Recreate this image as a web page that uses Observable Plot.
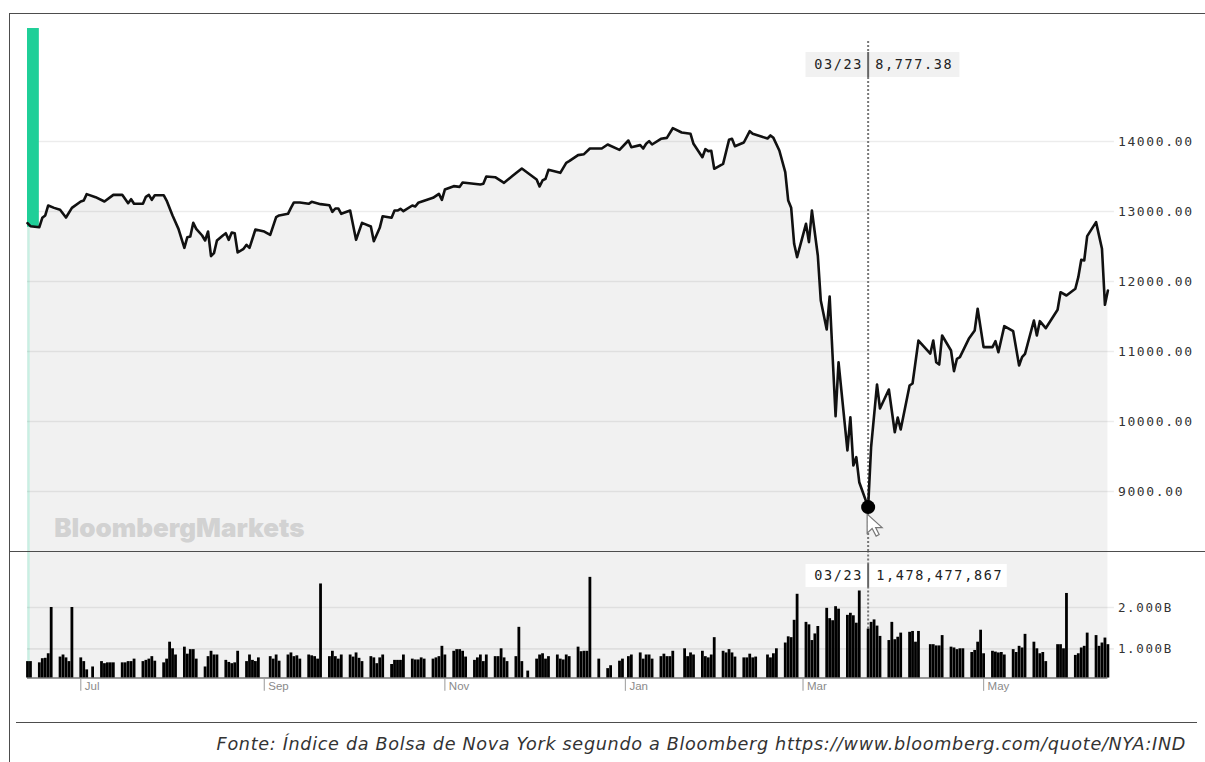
<!DOCTYPE html>
<html>
<head>
<meta charset="utf-8">
<script src="https://cdn.jsdelivr.net/npm/d3@7"></script>
<script src="https://cdn.jsdelivr.net/npm/@observablehq/plot@0.6"></script>
<style>
html,body{margin:0;padding:0;background:#fff;}
#page{position:relative;width:1205px;height:762px;overflow:hidden;background:#fff;}
#top,#bottom{position:absolute;left:0;}
#top{top:0;}
#bottom{top:551px;}
.ln{position:absolute;background:#4d4d4d;}
#caption{position:absolute;right:19px;top:734px;font:italic 17.6px "DejaVu Sans",sans-serif;letter-spacing:.68px;white-space:nowrap;color:#333;}
g[font-weight="900"],g[font-size="11.5"]{letter-spacing:0;}
</style>
</head>
<body>
<div id="page">
  <div id="top"></div>
  <div id="bottom"></div>
  <div class="ln" style="left:9px;top:13px;width:1196px;height:1.4px"></div>
  <div class="ln" style="left:9px;top:13px;width:1.4px;height:749px"></div>
  <div class="ln" style="left:10px;top:550.5px;width:1195px;height:1.3px"></div>
  <div class="ln" style="left:16px;top:722px;width:1181px;height:1.4px"></div>
  <div id="caption">Fonte: Índice da Bolsa de Nova York segundo a Bloomberg https://www.bloomberg.com/quote/NYA:IND</div>
</div>
<script>
// Days since 13 Jun 2019 and the index level read at each turning point of the line
const lineDays = [0,1,4,5,6,7,9,11,13,15,18,19,20,23,26,29,32,34,35,36,39,40,41,42,43,46,47,49,51,53,54,55,56,57,59,60,61,62,63,64,66,67,68,69,70,71,73,74,75,77,80,82,84,85,88,89,90,92,95,96,99,102,103,104,105,106,109,111,113,116,117,119,120,123,124,125,
  126,127,130,131,132,137,139,140,141,144,146,147,153,154,155,158,161,164,167,172,173,174,175,176,180,182,183,186,188,190,194,196,200,203,204,207,208,209,210,211,214,216,218,221,224,225,228,229,230,231,232,235,237,238,239,242,244,245,250,251,252,254,256,257,258,259,260,
  263,264,265,267,268,270,271,273,274,277,278,279,280,281,284,285,287,288,291,293,294,295,298,299,301,305,306,307,308,309,312,313,314,315,318,320,321,323,326,327,328,330,333,335,336,337,340,341,342,344,348,349,351,354,355,356,357,358,361,363,364,365];
const lineCloses = [12833,12790,12776,12910,12943,13086,13052,13024,12914,13052,13143,13157,13248,13205,13143,13238,13238,13119,13176,13110,13110,13210,13238,13167,13233,13233,13157,12943,12752,12481,12633,12643,12838,12752,12657,12586,12714,12362,12405,12586,12657,12690,12595,12700,12690,12414,12467,12524,12481,12743,12714,12667,12919,12943,12967,13052,13129,13129,13110,13138,13105,13090,12995,13043,13043,12967,13014,12595,12838,12786,12576,12767,12933,12910,13014,13014,
  13038,13005,13086,13071,13124,13195,13252,13167,13314,13362,13352,13414,13386,13395,13500,13490,13410,13514,13614,13457,13357,13443,13467,13595,13552,13695,13719,13805,13819,13900,13900,13957,13881,14014,13919,13948,13900,13967,14005,13957,14038,14052,14190,14129,14110,13967,13776,13890,13862,13867,13610,13681,14024,14038,13933,13986,14148,14110,14043,14086,14052,13871,13562,13157,13052,12538,12348,
  12824,12562,13014,12371,11729,11314,11786,10076,10847,9586,10061,9371,9490,9133,8777.38,9633,10529,10186,10457,9847,10057,9886,10514,10543,11157,10971,11157,10847,10814,11229,11014,10719,10896,10919,11181,11300,11610,11062,11062,11147,10990,11362,11290,10800,10919,10967,11443,11229,11433,11333,11596,11847,11800,11896,12062,12310,12300,12648,12848,12467,11667,11871];

// Trading days (same day count) and the volume of each bar, in billions of shares
const volumeDays = [0,1,4,5,6,7,8,11,12,13,14,15,18,19,20,22,25,26,27,28,29,32,33,34,35,36,39,40,41,42,43,46,47,48,49,50,53,54,55,56,57,60,61,62,63,64,67,68,69,70,71,74,75,76,77,78,82,83,84,85,88,89,90,91,92,95,96,97,98,99,102,103,104,105,106,109,110,111,112,113,116,117,118,119,120,123,124,125,
  126,127,130,131,132,133,134,137,138,139,140,141,144,145,146,147,148,151,152,153,154,155,158,159,160,161,162,165,166,167,169,172,173,174,175,176,179,180,181,182,183,186,187,188,189,190,193,196,197,200,201,203,204,207,208,209,210,211,214,215,216,217,218,222,223,224,225,228,229,230,231,232,235,236,237,238,239,242,243,244,245,246,250,251,252,253,256,257,258,259,260,
  263,264,265,266,267,270,271,272,273,274,277,278,279,280,281,284,285,286,287,288,291,292,293,294,295,298,299,300,301,305,306,307,308,309,312,313,314,315,316,319,320,321,322,323,326,327,328,329,330,333,334,335,336,337,340,341,342,343,344,348,349,350,351,354,355,356,357,358,361,362,363,364,365];
const volumes = [.69,.69,.66,.76,.77,.88,2.0,.80,.85,.78,.69,2.0,.78,.69,.49,.56,.69,.64,.66,.66,.66,.66,.66,.69,.69,.75,.69,.72,.75,.81,.70,.66,.75,1.16,1.0,.85,1.04,.87,.98,.98,.75,.56,.81,.94,.85,.85,.72,.67,.64,.66,.94,.69,.85,.72,.69,.78,.81,.75,.85,.70,.85,.90,.81,.83,.75,.85,.83,.81,.75,2.57,.81,.94,.81,.75,.85,.85,.80,.90,.77,.69,.81,.78,.64,.78,.85,.62,.72,.72,
  .72,.85,.75,.73,.73,.78,.75,.75,.78,.81,1.06,.85,.94,.98,.98,.94,.80,.72,.78,.85,.69,.85,.81,.81,1.0,.78,.69,.81,1.52,.69,.46,.75,.85,.88,.75,.81,.85,.75,.73,.85,.81,1.04,.93,.94,.94,2.73,.75,.52,.59,.70,.75,.81,.85,.90,.75,.85,.85,.75,.81,.87,.81,.81,.94,1.0,.81,.90,.85,.94,.81,.78,.85,1.27,.94,.90,.98,.90,.80,.78,.78,.87,.78,.80,.85,.78,.88,1.0,1.14,1.29,1.27,1.69,2.32,
  1.64,1.58,1.20,1.36,1.54,1.98,1.73,1.68,2.02,1.96,1.81,1.86,1.80,1.62,2.40,1.478,1.64,1.70,1.55,1.30,1.20,1.64,1.22,1.28,1.38,1.40,1.42,1.16,1.42,1.10,1.10,1.07,1.07,1.32,1.04,1.02,.98,1.0,1.0,.91,.96,1.16,1.45,.88,.94,.92,.90,.91,.85,.98,.91,1.06,1.02,1.35,1.16,1.0,.88,.91,.69,1.10,1.10,1.0,2.34,.84,.88,1.02,1.06,1.38,1.32,1.06,1.14,1.26,1.10];

const priceTicks = [14000,13000,12000,11000,10000,9000];
const volumeTicks = [2,1];
const monthDays = [18,80,141,202,262,323];
const monthLabels = ["Jul","Sep","Nov","Jan","Mar","May"];

const hoverDay = 284, hoverClose = 8777.38, hoverVolume = 1478477867;
const priceFloor = 8142.86, priceCeil = 16014.29;
const volFloor = -0.276, volBase = 0.293, volCeil = 3.356;

const toDate = d => new Date(Date.UTC(2019, 5, 13 + d));
const xScale = {type:"utc", domain:[toDate(0), toDate(365)], range:[27, 1107.4], axis:null};
const hoverDate = toDate(hoverDay);
const rows = lineDays.map((d,i) => ({date:toDate(d), close:lineCloses[i]}));
const bars = volumeDays.map((d,i) => ({date:toDate(d), vol:volumes[i]}));
const one = [{}];
const dayLabel = d3.utcFormat("%m/%d")(hoverDate);
const mono = "'DejaVu Sans Mono', monospace";
const plotStyle = `font-family:${mono};letter-spacing:1.65px;background:transparent;`;
const gridEnd = new Date(+toDate(367) + 0.2 * 864e5);

// Mouse pointer as a custom dot symbol
const pointer = {draw(c){ c.moveTo(0,0); c.lineTo(0,19); c.lineTo(5,14.5); c.lineTo(9,22); c.lineTo(12,20.5); c.lineTo(8.5,13.5); c.lineTo(15,13.5); c.closePath(); }};

const priceChart = Plot.plot({
  width:1205, height:551, marginLeft:27, marginRight:97.6, marginTop:0, marginBottom:0,
  style:plotStyle,
  x:xScale,
  y:{domain:[priceFloor,priceCeil], range:[551,0], axis:null},
  marks:[
    Plot.areaY(rows,{x:"date",y1:()=>priceFloor,y2:"close",fill:"#f1f1f1"}),
    Plot.ruleX(one,{x:()=>toDate(0),y1:()=>priceFloor,y2:()=>12790,stroke:"#c9efe3",strokeWidth:2.4,dx:1}),
    Plot.ruleY(priceTicks,{x1:()=>toDate(0),x2:()=>gridEnd,stroke:"#000",strokeOpacity:0.075,strokeWidth:1.7}),
    Plot.rect(one,{x1:()=>toDate(0),x2:()=>toDate(4),y1:()=>12776,y2:()=>15614,fill:"#1fcf98"}),
    Plot.text(one,{x:()=>toDate(9),y:()=>8470,text:()=>"BloombergMarkets",textAnchor:"start",fontFamily:"Inter,'Liberation Sans',sans-serif",fontWeight:900,fontSize:26,fill:"#d2d2d2"}),
    Plot.ruleX(one,{x:()=>hoverDate,y1:()=>priceFloor,y2:()=>15443,stroke:"#777",strokeWidth:2,strokeDasharray:"2,2"}),
    Plot.axisY({anchor:"right",ticks:priceTicks,tickSize:0,tickPadding:10,tickFormat:d=>d.toFixed(2),fontSize:13,label:null,fill:"#333"}),
    Plot.line(rows,{x:"date",y:"close",stroke:"#111",strokeWidth:2.6,strokeLinejoin:"round"}),
    Plot.dot(one,{x:()=>hoverDate,y:()=>hoverClose,symbol:pointer,r:5,fill:"#fff",stroke:"#777",strokeWidth:1.2,dy:7,dx:-1}),
    Plot.dot(one,{x:()=>hoverDate,y:()=>hoverClose,r:7,fill:"#000",stroke:"none"}),
    Plot.rect(one,{x1:()=>toDate(263),x2:()=>toDate(315),y1:()=>14914,y2:()=>15271,fill:"#f1f1f1"}),
    Plot.ruleX(one,{x:()=>hoverDate,y1:()=>14914,y2:()=>15271,stroke:"#666",strokeWidth:2}),
    Plot.text(one,{x:()=>hoverDate,y:()=>15093,text:()=>dayLabel,textAnchor:"end",dx:-5,fontSize:13.5,fill:"#222"}),
    Plot.text(one,{x:()=>hoverDate,y:()=>15093,text:()=>d3.format(",.2f")(hoverClose),textAnchor:"start",dx:7,fontSize:13.5,fill:"#222"})
  ]
});
document.getElementById("top").appendChild(priceChart);

const volumeChart = Plot.plot({
  width:1205, height:150, marginLeft:27, marginRight:97.6, marginTop:0, marginBottom:0,
  style:plotStyle,
  x:xScale,
  y:{domain:[volFloor,volCeil], range:[150,0], axis:null},
  marks:[
    Plot.rect(one,{x1:()=>toDate(0),x2:()=>toDate(365),y1:()=>volBase,y2:()=>volCeil,fill:"#f1f1f1"}),
    Plot.ruleX(one,{x:()=>toDate(0),y1:()=>volBase,y2:()=>volCeil,stroke:"#c9efe3",strokeWidth:2.4,dx:1}),
    Plot.ruleY(volumeTicks,{x1:()=>toDate(0),x2:()=>gridEnd,stroke:"#000",strokeOpacity:0.075,strokeWidth:1.7}),
    Plot.axisY({anchor:"right",ticks:volumeTicks,tickSize:0,tickPadding:10,tickFormat:d=>d.toFixed(3)+"B",fontSize:12.5,label:null,fill:"#333"}),
    Plot.ruleX(one,{x:()=>hoverDate,y1:()=>hoverVolume/1e9,y2:()=>volCeil,stroke:"#777",strokeWidth:2,strokeDasharray:"2,2"}),
    Plot.ruleX(bars,{x:"date",y1:()=>volBase,y2:"vol",stroke:"#000",strokeWidth:2.8}),
    Plot.ruleY(one,{y:()=>volBase,x1:()=>toDate(0),x2:()=>toDate(365),stroke:"#333",strokeWidth:1}),
    Plot.ruleX(monthDays.map(toDate),{y1:()=>-0.03,y2:()=>0.255,stroke:"#aaa",strokeWidth:1.2}),
    Plot.text(monthDays,{x:toDate,y:()=>0.08,text:(d,i)=>monthLabels[i],textAnchor:"start",dx:4,fontFamily:"'Liberation Sans',Arial,sans-serif",fontSize:11.5,fill:"#8a8a8a"}),
    Plot.rect(one,{x1:()=>toDate(263),x2:()=>toDate(331),y1:()=>2.484,y2:()=>3.041,fill:"#fff"}),
    Plot.ruleX(one,{x:()=>hoverDate,y1:()=>2.484,y2:()=>3.041,stroke:"#666",strokeWidth:2}),
    Plot.text(one,{x:()=>hoverDate,y:()=>2.76,text:()=>dayLabel,textAnchor:"end",dx:-5,fontSize:13.5,fill:"#222"}),
    Plot.text(one,{x:()=>hoverDate,y:()=>2.76,text:()=>d3.format(",")(hoverVolume),textAnchor:"start",dx:8,fontSize:13.5,fill:"#222"})
  ]
});
document.getElementById("bottom").appendChild(volumeChart);
</script>
</body>
</html>
